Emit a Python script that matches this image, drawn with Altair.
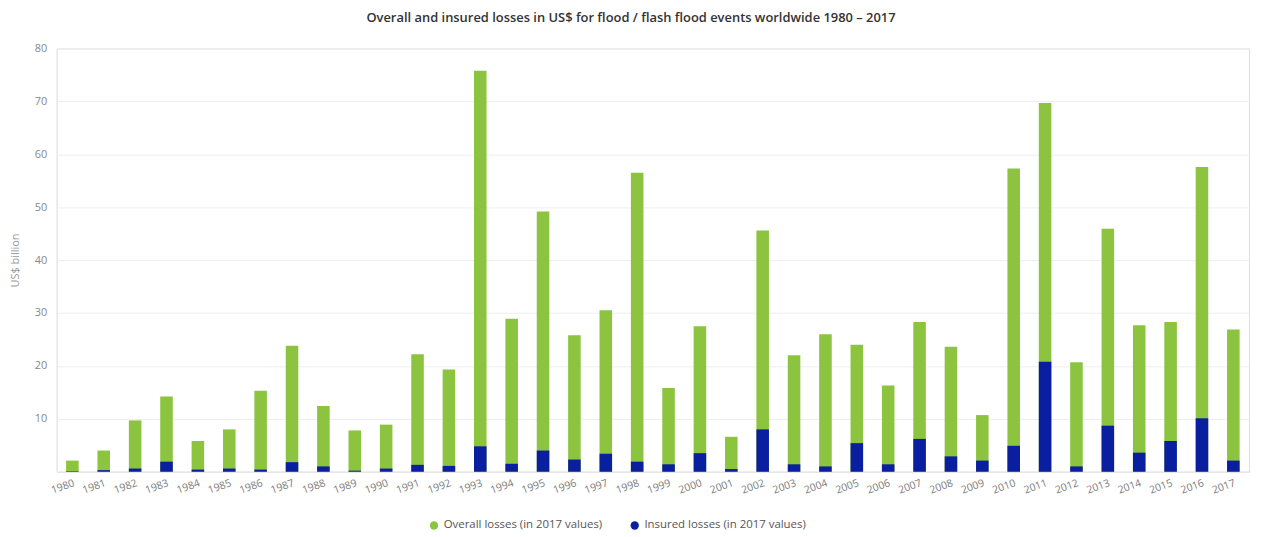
import altair as alt
import pandas as pd

years = ["1980", "1981", "1982", "1983", "1984", "1985", "1986", "1987", "1988", "1989",
         "1990", "1991", "1992", "1993", "1994", "1995", "1996", "1997", "1998", "1999",
         "2000", "2001", "2002", "2003", "2004", "2005", "2006", "2007", "2008", "2009",
         "2010", "2011", "2012", "2013", "2014", "2015", "2016", "2017"]
overall = [2.1, 4.0, 9.7, 14.2, 5.8, 8.0, 15.3, 23.8, 12.4, 7.8, 8.9, 22.2,
           19.3, 75.8, 28.9, 49.2, 25.8, 30.5, 56.5, 15.8, 27.5, 6.6, 45.6, 22.0, 26.0,
           24.0, 16.3, 28.3, 23.6, 10.7, 57.3, 69.7, 20.7, 45.9, 27.7, 28.3, 57.6, 26.9]
insured = [0.1, 0.3, 0.6, 1.9, 0.4, 0.6, 0.4, 1.8, 1.0, 0.2, 0.6, 1.3,
           1.1, 4.8, 1.5, 4.0, 2.3, 3.4, 1.9, 1.4, 3.5, 0.5, 8.0, 1.4, 1.0,
           5.4, 1.4, 6.2, 2.9, 2.1, 4.9, 20.8, 1.0, 8.7, 3.6, 5.8, 10.1, 2.1]
series = ["Overall losses (in 2017 values)", "Insured losses (in 2017 values)"]
colors = ["#8cc43f", "#0a1f9f"]

rows = []
for y, o, i in zip(years, overall, insured):
    rows.append({"year": y, "series": series[0], "value": o, "z": 0})
    rows.append({"year": y, "series": series[1], "value": i, "z": 1})
df = pd.DataFrame(rows)

FONT = "Open Sans"

chart = alt.Chart(df).mark_bar().encode(
    x=alt.X("year:N", sort=years, title=None,
            scale=alt.Scale(paddingInner=0.6, paddingOuter=0.3),
            axis=alt.Axis(labelAngle=-20, labelAlign="right", labelBaseline="top",
                          labelFontSize=10.5, labelColor="#7a7a7a", labelFont=FONT,
                          ticks=False, labelPadding=6, domainColor="#e4e4e4",
                          labelOverlap=False)),
    y=alt.Y("value:Q", stack=None, title="US$ billion",
            scale=alt.Scale(domain=[0, 80], nice=False),
            axis=alt.Axis(values=[0, 10, 20, 30, 40, 50, 60, 70, 80],
                          labelExpr="datum.value == 0 ? '' : datum.label",
                          labelFontSize=11, labelColor="#888", labelFont=FONT,
                          ticks=False, labelPadding=10, domainColor="#eaeaea",
                          gridColor="#eeeeee", titleFontSize=11, titleColor="#999",
                          titleFont=FONT, titleFontWeight="normal", titlePadding=14)),
    color=alt.Color("series:N", sort=series,
                    scale=alt.Scale(domain=series, range=colors),
                    legend=alt.Legend(title=None, orient="none", direction="horizontal",
                                      legendX=374, legendY=474, symbolType="circle",
                                      symbolSize=70, labelFontSize=11.5, labelColor="#555",
                                      labelFont=FONT, columnPadding=26, symbolOpacity=1,
                                      labelLimit=400)),
    order=alt.Order("z:Q"),
).properties(
    width=1200,
    height=426,
    padding={"left": 49, "top": 39, "right": 5, "bottom": 62},
    autosize=alt.AutoSizeParams(type="none"),
    title=alt.TitleParams("Overall and insured losses in US$ for flood / flash flood events worldwide 1980 – 2017",
                          fontSize=13, font=FONT, fontWeight=600, color="#333",
                          anchor="middle", dx=-22, offset=18),
).configure_view(stroke=None).configure(background="white")

chart.save("out.html", embed_options={"renderer": "svg", "actions": False})
